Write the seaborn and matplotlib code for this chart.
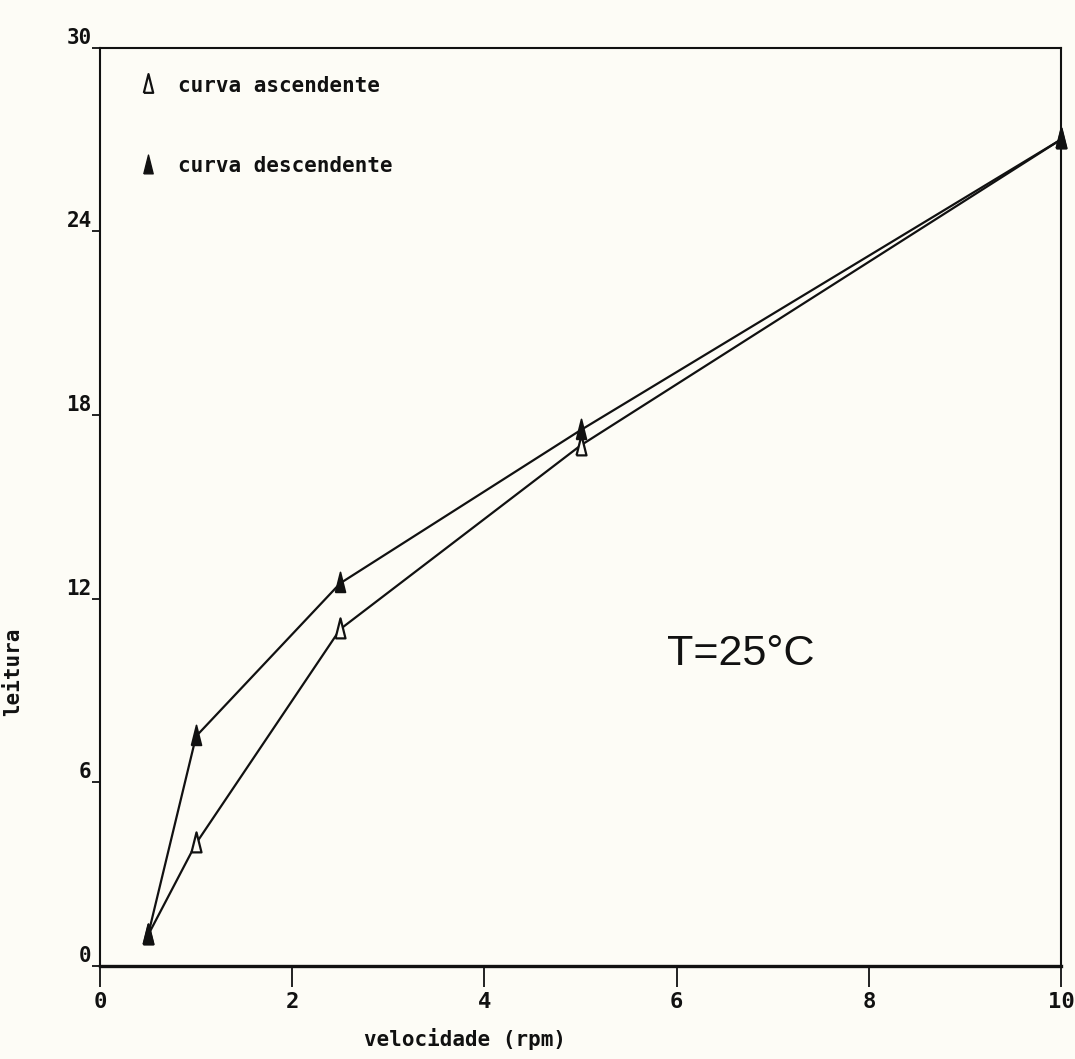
import matplotlib
matplotlib.use("Agg")
import matplotlib.pyplot as plt
from matplotlib.lines import Line2D
import seaborn as sns
import pandas as pd

# Viscometer readings at each spindle speed (rpm)
velocidade = [0.5, 1.0, 2.5, 5.0, 10.0]
ascendente = [1.0, 4.0, 11.0, 17.0, 27.0]
descendente = [1.0, 7.5, 12.5, 17.5, 27.0]

x_ticks = [0, 2, 4, 6, 8, 10]
y_ticks = [0, 6, 12, 18, 24, 30]
label_asc = "curva ascendente"
label_desc = "curva descendente"
temperatura = "T=25°C"

sns.set_style("white")
plt.rcParams["font.family"] = ["DejaVu Sans Mono", "DejaVu Sans"]

paper = "#fdfcf6"
ink = "#111111"

df = pd.DataFrame({
    "velocidade": velocidade * 2,
    "leitura": ascendente + descendente,
    "curva": [label_asc] * len(velocidade) + [label_desc] * len(velocidade),
})

# narrow, tall triangle like a pen-plotter symbol
tri = [(-0.45, -0.8), (0.45, -0.8), (0.0, 1.0), (-0.45, -0.8)]

fig = plt.figure(figsize=(10.75, 10.59), dpi=100, facecolor=paper)
ax = fig.add_axes([0.093, 0.088, 0.894, 0.867], facecolor=paper)

sns.lineplot(data=df[df.curva == label_asc], x="velocidade", y="leitura",
             color=ink, lw=1.6, marker=tri, markersize=16,
             markerfacecolor=paper, markeredgecolor=ink, markeredgewidth=1.6,
             ax=ax, legend=False, clip_on=False, zorder=3)
sns.lineplot(data=df[df.curva == label_desc], x="velocidade", y="leitura",
             color=ink, lw=1.6, marker=tri, markersize=16,
             markerfacecolor=ink, markeredgecolor=ink, markeredgewidth=1.2,
             ax=ax, legend=False, clip_on=False, zorder=4)

ax.set_xlim(0, 10)
ax.set_ylim(0, 30)
ax.set_xticks(x_ticks)
ax.set_yticks(y_ticks)

for side in ["left", "right", "top", "bottom"]:
    ax.spines[side].set_visible(True)
    ax.spines[side].set_color(ink)
    ax.spines[side].set_linewidth(1.5)
ax.spines["bottom"].set_linewidth(2.4)

ax.tick_params(axis="x", direction="out", length=15, width=1.3, colors=ink,
               labelsize=16, pad=4, bottom=True)
ax.tick_params(axis="y", direction="out", length=6, width=1.3, colors=ink,
               labelsize=15, pad=0, left=True)
for lab in ax.get_xticklabels() + ax.get_yticklabels():
    lab.set_fontweight("bold")
for lab in ax.get_yticklabels():
    lab.set_verticalalignment("bottom")

ax.set_xlabel("velocidade (rpm)", fontsize=15, fontweight="bold", color=ink)
ax.set_ylabel("leitura", fontsize=15, fontweight="bold", color=ink)
ax.xaxis.set_label_coords(0.38, -0.068)
ax.yaxis.set_label_coords(-0.08, 0.32)

handles = [
    Line2D([], [], linestyle="none", marker=tri, markersize=15,
           markerfacecolor=paper, markeredgecolor=ink, markeredgewidth=1.6),
    Line2D([], [], linestyle="none", marker=tri, markersize=15,
           markerfacecolor=ink, markeredgecolor=ink),
]
leg = ax.legend(handles, [label_asc, label_desc], loc="upper left",
                bbox_to_anchor=(0.02, 0.99), frameon=False,
                handlelength=1.0, handletextpad=0.9, labelspacing=2.9,
                prop={"family": "DejaVu Sans Mono", "weight": "bold", "size": 15})
for t in leg.get_texts():
    t.set_color(ink)

ax.text(5.9, 10.2, temperatura, fontsize=31, color=ink,
        family="Liberation Sans", ha="left", va="center")

fig.savefig("out.png", dpi=100, facecolor=paper)
